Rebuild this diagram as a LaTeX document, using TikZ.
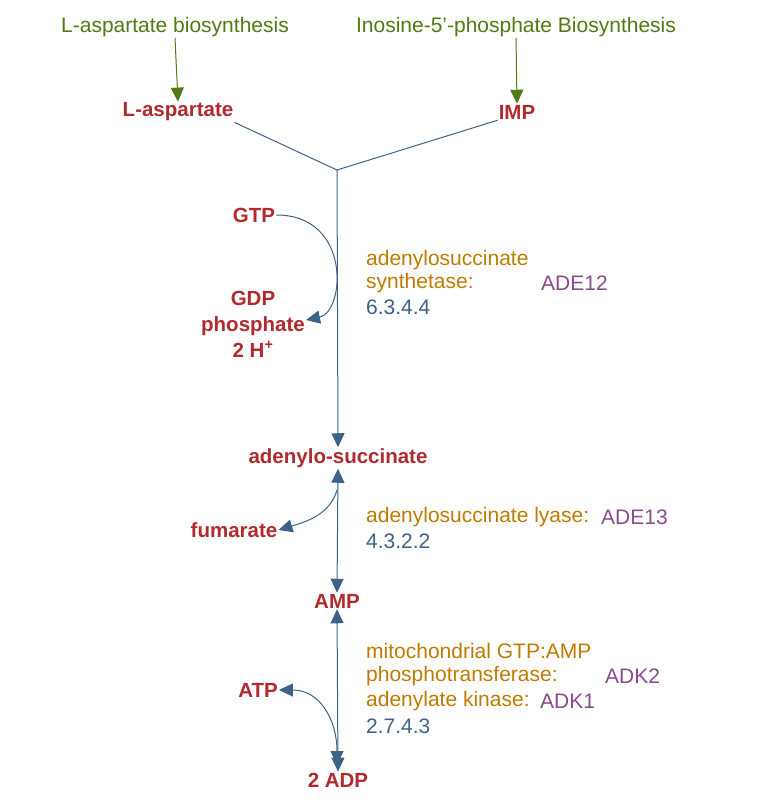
\documentclass[tikz,border=0pt]{standalone}
\usepackage{fontspec}
\setmainfont{Liberation Sans}
\usetikzlibrary{arrows.meta}
\definecolor{pg}{HTML}{4F7A14}
\definecolor{pr}{HTML}{B02A2E}
\definecolor{po}{HTML}{BF7A00}
\definecolor{pp}{HTML}{8A4A8C}
\definecolor{pb}{HTML}{3E6287}
\begin{document}
\begin{tikzpicture}[x=1pt,y=-1pt,
 every node/.style={font=\fontsize{21}{23}\selectfont,inner sep=1pt},
 path/.style={text=pg},
 met/.style={text=pr,font=\fontsize{20.5}{26}\selectfont\bfseries},
 enz/.style={text=po,anchor=west,align=left},
 gene/.style={text=pp,anchor=west},
 ec/.style={text=pb,anchor=west},
 ln/.style={draw=pb,line width=1pt},
 tip/.style={-{Triangle[length=14pt,width=13pt]}},
 dtip/.style={{Triangle[length=14pt,width=13pt]}-{Triangle[length=14pt,width=13pt]}},
 tipg/.style={draw=pg,line width=1pt,-{Triangle[length=14pt,width=13pt]}}]
\useasboundingbox (0,0) rectangle (770,802);
\node[path] (p1) at (175,27) {L-aspartate biosynthesis};
\node[path] (p2) at (516,27) {Inosine-5'-phosphate Biosynthesis};
\node[met] (asp) at (178,112) {L-aspartate};
\node[met] (imp) at (517,112) {IMP};
\draw[tipg] (p1.south) -- (asp.north);
\draw[tipg] (p2.south) -- (imp.north);
\coordinate (j) at (337,170);
\node[met] (ads) at (338,458) {adenylo-succinate};
\node[met] (amp) at (337,601) {AMP};
\node[met] (adp) at (338,780) {2 ADP};
\node[met] (gtp) at (254,215) {GTP};
\node[met,align=center] (gdp) at (253,324) {GDP\\phosphate\\2 H\textsuperscript{+}};
\node[met] (fum) at (234,530) {fumarate};
\node[met] (atp) at (258,690) {ATP};
\draw[ln] (asp.south east) -- (j) -- (imp.south west);
\draw[ln,tip] (j) -- (ads.north);
\draw[ln,tip] (gtp.east) .. controls (352,215) and (345,312) .. (gdp.east|-0,320);
\draw[ln,dtip] (ads.south) -- (amp.north);
\draw[ln,tip] (337,490) .. controls (330,515) and (305,522) .. (fum.east);
\draw[ln,dtip] (amp.south) -- (adp.north);
\draw[ln,dtip] (atp.east) .. controls (320,690) and (337,720) .. (337,765);
\node[enz] (e1) at (365,272) {adenylosuccinate\\synthetase:};
\node[gene] (g1) at (540,283) {ADE12};
\node[ec] (c1) at (365,307) {6.3.4.4};
\node[enz] (e2) at (365,517) {adenylosuccinate lyase:};
\node[gene] (g2) at (600,517) {ADE13};
\node[ec] (c2) at (365,541) {4.3.2.2};
\node[enz] (e3) at (365,665) {mitochondrial GTP:AMP\\phosphotransferase:};
\node[gene] (g3) at (604,676) {ADK2};
\node[enz] (e4) at (365,701) {adenylate kinase:};
\node[gene] (g4) at (539,701) {ADK1};
\node[ec] (c3) at (365,726) {2.7.4.3};
\end{tikzpicture}
\end{document}
